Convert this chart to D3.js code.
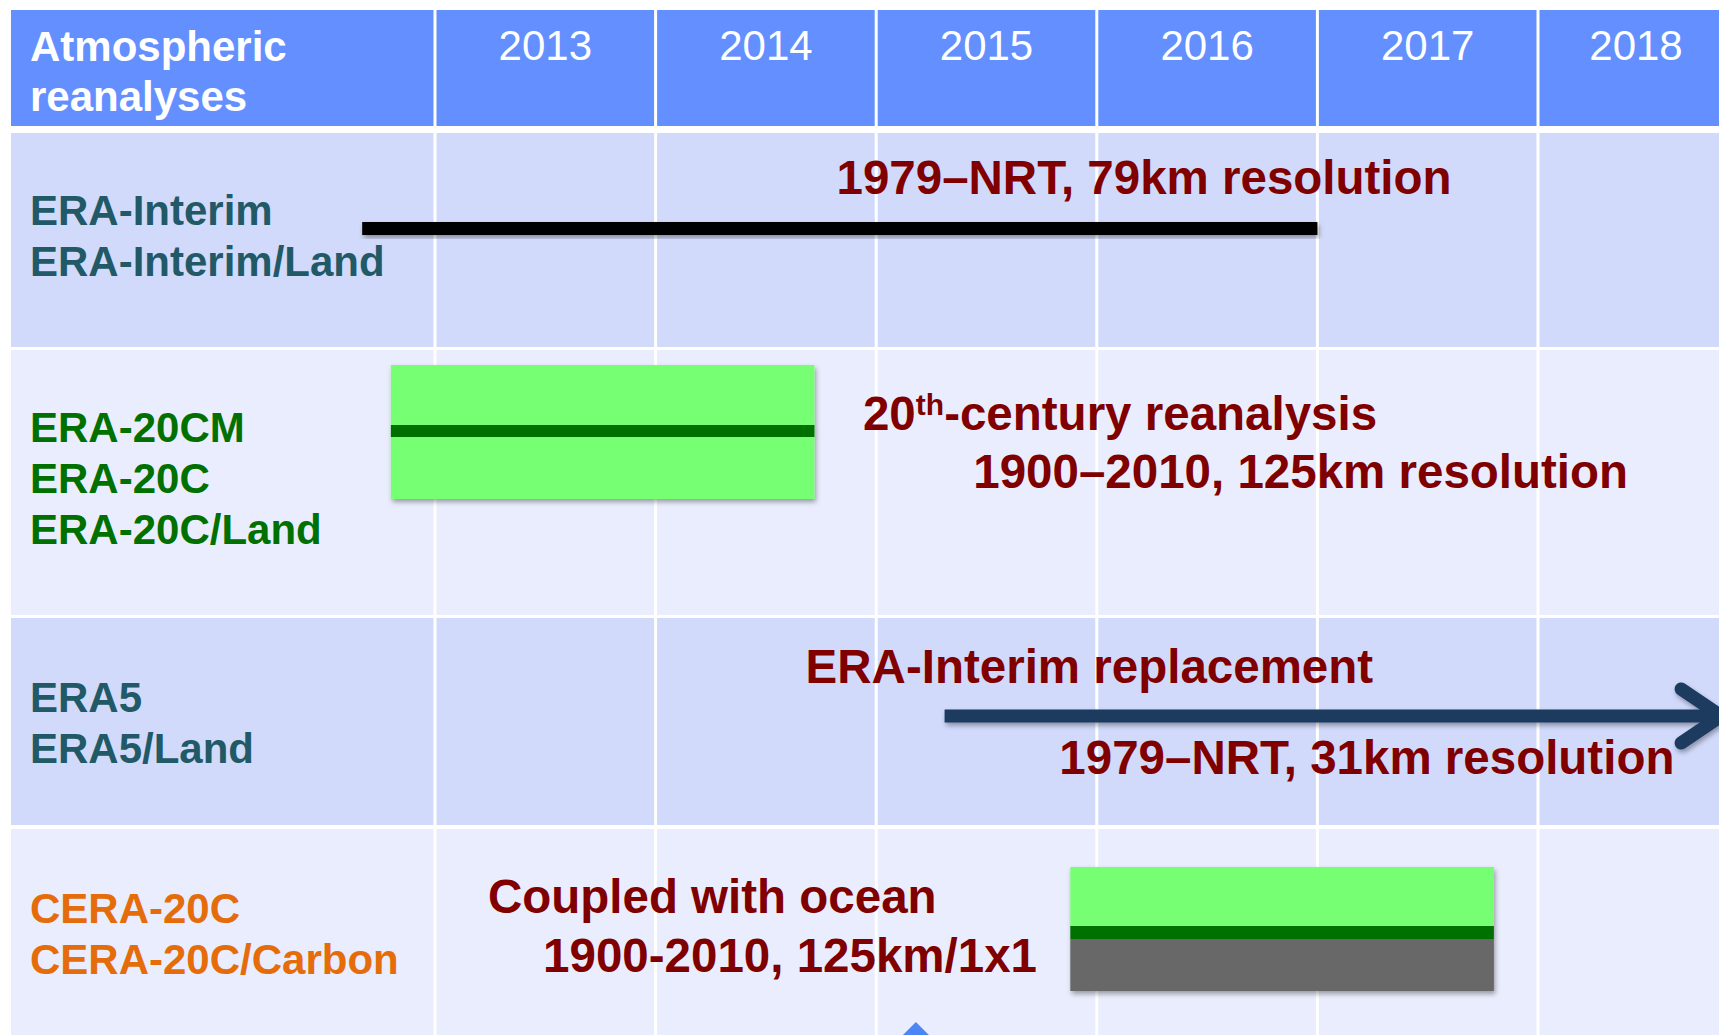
<!DOCTYPE html>
<html>
<head>
<meta charset="utf-8">
<script src="https://cdn.jsdelivr.net/npm/d3@7"></script>
<style>
body { margin: 0; background: #fff; overflow: hidden; }
text { font-family: "Liberation Sans", Arial, sans-serif; }
</style>
</head>
<body>
<script>
var width = 1719,
    height = 1035;

// timeline columns
var years = [2013, 2014, 2015, 2016, 2017, 2018];

// one row per reanalysis family
var products = [
  ["ERA-Interim", "ERA-Interim/Land"],
  ["ERA-20CM", "ERA-20C", "ERA-20C/Land"],
  ["ERA5", "ERA5/Land"],
  ["CERA-20C", "CERA-20C/Carbon"]
];
var productColors = ["#215967", "#007000", "#215967", "#e46c0a"];

// production periods, in fractional years
var eraInterim = [2012.67, 2017.0];
var era20c = [2012.8, 2014.72];
var era5 = [2015.31, 2018.83];
var cera20c = [2015.88, 2017.8];
var milestones = [2015.18];

// annotations: row, text, year where the text starts
var notes = [
  {row: 0, text: "1979\u2013NRT, 79km resolution", at: 2014.82},
  {row: 1, text: "20|th|-century reanalysis", at: 2014.94},
  {row: 1, text: "1900\u20132010, 125km resolution", at: 2015.44},
  {row: 2, text: "ERA-Interim replacement", at: 2014.68},
  {row: 2, text: "1979\u2013NRT, 31km resolution", at: 2015.83},
  {row: 3, text: "Coupled with ocean", at: 2013.24},
  {row: 3, text: "1900-2010, 125km/1x1", at: 2013.49}
];

// layout
var left = 11,
    tableRight = 1734,
    headerTop = 10,
    headerBottom = 126,
    rowTop = [133, 350, 618, 829],
    rowBottom = [347, 615, 825, 1050],
    nameDy = [91.5, 92, 93.5, 94],
    noteDy = [61, 80, 138, 65, 156, 84, 143],
    lineGap = 51;

var x = d3.scaleLinear()
    .domain([2013, 2019])
    .range([435, 435 + 6 * 220.6]);

var svg = d3.select("body").append("svg")
    .attr("width", width)
    .attr("height", height);

var defs = svg.append("defs");
defs.append("filter")
    .attr("id", "shadow")
    .attr("x", "-5%").attr("y", "-30%")
    .attr("width", "110%").attr("height", "160%")
  .append("feDropShadow")
    .attr("dx", 1.5)
    .attr("dy", 3)
    .attr("stdDeviation", 2.5)
    .attr("flood-color", "#000")
    .attr("flood-opacity", 0.35);

// header band
svg.append("rect")
    .attr("x", left)
    .attr("y", headerTop)
    .attr("width", width - left)
    .attr("height", headerBottom - headerTop)
    .attr("fill", "#6390fe");

// row bands
svg.selectAll(".row")
    .data(products)
  .enter().append("rect")
    .attr("class", "row")
    .attr("x", left)
    .attr("y", function(d, i) { return rowTop[i]; })
    .attr("width", width - left)
    .attr("height", function(d, i) { return rowBottom[i] - rowTop[i]; })
    .attr("fill", function(d, i) { return i % 2 ? "#e9edfd" : "#d2dafc"; });

// white column separators
svg.selectAll(".sep")
    .data(years)
  .enter().append("rect")
    .attr("class", "sep")
    .attr("x", function(d) { return x(d) - 1.5; })
    .attr("y", headerTop)
    .attr("width", 3)
    .attr("height", height - headerTop)
    .attr("fill", "#fff");

// header texts
svg.append("text")
    .attr("x", 30)
    .attr("y", 61)
    .attr("fill", "#fff")
    .attr("font-size", 42)
    .attr("font-weight", "bold")
    .text("Atmospheric");
svg.append("text")
    .attr("x", 30)
    .attr("y", 111)
    .attr("fill", "#fff")
    .attr("font-size", 42)
    .attr("font-weight", "bold")
    .text("reanalyses");

svg.selectAll(".year")
    .data(years)
  .enter().append("text")
    .attr("class", "year")
    .attr("x", function(d) { return (x(d) + Math.min(x(d + 1), tableRight)) / 2; })
    .attr("y", 60)
    .attr("text-anchor", "middle")
    .attr("fill", "#fff")
    .attr("font-size", 42)
    .text(function(d) { return d; });

// product names
products.forEach(function(names, i) {
  svg.selectAll(".name" + i)
      .data(names)
    .enter().append("text")
      .attr("x", 30)
      .attr("y", function(d, j) { return rowTop[i] + nameDy[i] + j * lineGap; })
      .attr("fill", productColors[i])
      .attr("font-size", 42)
      .attr("font-weight", "bold")
      .text(function(d) { return d; });
});

// ERA-Interim: black bar
svg.append("rect")
    .attr("x", x(eraInterim[0]))
    .attr("y", rowTop[0] + 89)
    .attr("width", x(eraInterim[1]) - x(eraInterim[0]))
    .attr("height", 13)
    .attr("fill", "#000")
    .attr("filter", "url(#shadow)");

// ERA-20C: green box with dark stripe
var g20 = svg.append("g").attr("filter", "url(#shadow)");
g20.append("rect")
    .attr("x", x(era20c[0]))
    .attr("y", rowTop[1] + 15)
    .attr("width", x(era20c[1]) - x(era20c[0]))
    .attr("height", 134)
    .attr("fill", "#77ff73");
g20.append("rect")
    .attr("x", x(era20c[0]))
    .attr("y", rowTop[1] + 75)
    .attr("width", x(era20c[1]) - x(era20c[0]))
    .attr("height", 12)
    .attr("fill", "#007000");

// ERA5: arrow running off the chart
var ay = rowTop[2] + 98;
var arrow = svg.append("g")
    .attr("stroke", "#1b3a5f")
    .attr("stroke-width", 13)
    .attr("fill", "none")
    .attr("filter", "url(#shadow)");
arrow.append("line")
    .attr("x1", x(era5[0]))
    .attr("x2", x(era5[1]) - 4)
    .attr("y1", ay)
    .attr("y2", ay);
arrow.append("path")
    .attr("stroke-linecap", "round")
    .attr("stroke-linejoin", "round")
    .attr("d", d3.line()([
      [x(era5[1]) - 40, ay - 27],
      [x(era5[1]), ay],
      [x(era5[1]) - 40, ay + 27]
    ]));

// CERA-20C: green over grey
var gc = svg.append("g").attr("filter", "url(#shadow)");
gc.append("rect")
    .attr("x", x(cera20c[0]))
    .attr("y", rowTop[3] + 38)
    .attr("width", x(cera20c[1]) - x(cera20c[0]))
    .attr("height", 60)
    .attr("fill", "#77ff73");
gc.append("rect")
    .attr("x", x(cera20c[0]))
    .attr("y", rowTop[3] + 110)
    .attr("width", x(cera20c[1]) - x(cera20c[0]))
    .attr("height", 52)
    .attr("fill", "#676767");
gc.append("rect")
    .attr("x", x(cera20c[0]))
    .attr("y", rowTop[3] + 97)
    .attr("width", x(cera20c[1]) - x(cera20c[0]))
    .attr("height", 13)
    .attr("fill", "#007000");

// milestone diamond at the bottom edge
svg.selectAll(".milestone")
    .data(milestones)
  .enter().append("path")
    .attr("class", "milestone")
    .attr("d", d3.symbol(d3.symbolSquare, 800))
    .attr("transform", function(d) { return "translate(" + x(d) + ",1042) rotate(45)"; })
    .attr("fill", "#4a86f5");

// annotations
notes.forEach(function(n, i) {
  var t = svg.append("text")
      .attr("x", x(n.at))
      .attr("y", rowTop[n.row] + noteDy[i])
      .attr("fill", "#800000")
      .attr("font-size", 47.5)
      .attr("font-weight", "bold");
  var parts = n.text.split("|");
  if (parts.length === 1) {
    t.text(n.text);
  } else {
    t.append("tspan").text(parts[0]);
    t.append("tspan").attr("font-size", 30).attr("dy", -15).text(parts[1]);
    t.append("tspan").attr("dy", 15).text(parts[2]);
  }
});
</script>
</body>
</html>
